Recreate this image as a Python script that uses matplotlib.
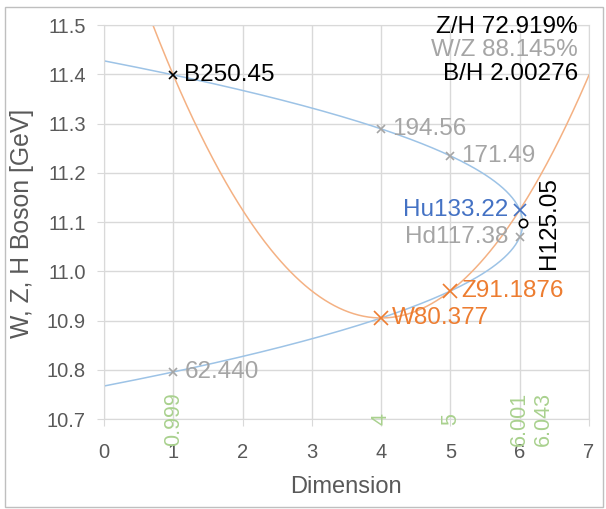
import matplotlib.pyplot as plt
import numpy as np
from matplotlib.patches import Rectangle

plt.rcParams['font.family'] = ['Liberation Sans', 'DejaVu Sans']

# boson masses [GeV] and the dimension each one is placed at
point_labels = ['B250.45', '62.440', '194.56', '171.49', 'Hu133.22', 'Hd117.38', 'W80.377', 'Z91.1876']
point_masses = [250.45, 62.440, 194.56, 171.49, 133.22, 117.38, 80.377, 91.1876]
point_dims = [0.999, 0.999, 4, 5, 6.001, 6.001, 4, 5]

higgs_label = 'H125.05'
higgs_mass = 125.05
higgs_dim = 6.043

ratio_texts = ['Z/H 72.919%', 'W/Z 88.145%', 'B/H 2.00276']
dim_marks = [0.999, 4, 5, 6.001, 6.043]

# B, W, Z carry the orange trendline
orange_idx = [0, 6, 7]

GRAY = '#A5A5A5'
BLUE = '#4472C4'
ORANGE = '#ED7D31'
GREEN = '#A9D18E'
AXIS = '#595959'

point_colors = ['black', GRAY, GRAY, GRAY, BLUE, GRAY, ORANGE, ORANGE]
point_sizes = [6, 6, 6, 6, 9, 6, 10, 10]
point_side = [1, 1, 1, 1, -1, -1, 1, 1]

def to_y(mass):
    # log10 of the mass in eV
    return np.log10(np.asarray(mass) * 1e9)

dims = np.array(point_dims, dtype=float)
ys = to_y(point_masses)

fig = plt.figure(figsize=(6.06, 5.09), dpi=100)
ax = fig.add_axes([104 / 606, 1 - 419 / 509, 485 / 606, 394 / 509])

# blue trendline: dimension as a quadratic in log-mass
cb = np.polyfit(ys, dims, 2)
y_roots = np.sort(np.roots(cb).real)
yy = np.linspace(y_roots[0], y_roots[1], 300)
ax.plot(np.polyval(cb, yy), yy, color='#9DC3E6', lw=1.1, zorder=2)

# orange trendline: log-mass as a quadratic in dimension
co = np.polyfit(dims[orange_idx], ys[orange_idx], 2)
xx = np.linspace(0, 7, 300)
ax.plot(xx, np.polyval(co, xx), color='#F4B183', lw=1.1, zorder=2)

for i, lab in enumerate(point_labels):
    ax.plot(dims[i], ys[i], marker='x', ms=point_sizes[i], mew=1.2,
            color=point_colors[i], ls='none', zorder=4)
    ax.annotate(lab, (dims[i], ys[i]), xytext=(8 * point_side[i], 0),
                textcoords='offset points', va='center',
                ha='left' if point_side[i] > 0 else 'right',
                fontsize=17.5, color=point_colors[i], zorder=5)

hy = to_y(higgs_mass)
ax.plot(higgs_dim, hy, marker='o', ms=6, mfc='white', mec='black', mew=1.2,
        ls='none', zorder=4)
ax.annotate(higgs_label, (higgs_dim, hy), xytext=(19, 0), textcoords='offset points',
            rotation=90, ha='center', va='center', fontsize=17.5, color='black')

# dimension values written along the x axis
for d in dim_marks:
    dx = 15 if d == 6.043 else 0
    ax.annotate(f'{d:g}', (d, 10.7), xytext=(dx, 0), textcoords='offset points',
                rotation=90, ha='center', va='center', fontsize=15.5,
                color=GREEN, zorder=6, annotation_clip=False)

for k, (txt, col) in enumerate(zip(ratio_texts, ['black', GRAY, 'black'])):
    fig.text(578 / 606, 1 - (27 + 23.5 * k) / 509, txt, ha='right', va='center',
             fontsize=17.5, color=col)

ax.set_xlim(0, 7)
ax.set_ylim(10.7, 11.5)
ax.set_xticks(range(8))
ax.set_yticks(np.arange(10.7, 11.51, 0.1))
ax.yaxis.set_major_formatter(plt.FormatStrFormatter('%.1f'))
ax.grid(True, color='#D9D9D9', lw=1)
ax.set_axisbelow(True)
for s in ax.spines.values():
    s.set_color('#D9D9D9')
ax.tick_params(axis='both', colors='#D9D9D9', labelcolor=AXIS, labelsize=14.5, length=5)
ax.tick_params(axis='x', pad=12)
ax.tick_params(axis='y', pad=8)

fig.text(346 / 606, 1 - 487 / 509, 'Dimension', ha='center', va='center',
         fontsize=17, color=AXIS)
fig.text(22 / 606, 1 - 223 / 509, 'W, Z, H Boson [GeV]', ha='center', va='center',
         rotation=90, fontsize=17.8, color=AXIS)

fig.patches.append(Rectangle((5 / 606, 1 - 507 / 509), 598 / 606, 500 / 509,
                             transform=fig.transFigure, fill=False,
                             edgecolor='#BFBFBF', lw=1))

fig.savefig('out.png', dpi=100)
